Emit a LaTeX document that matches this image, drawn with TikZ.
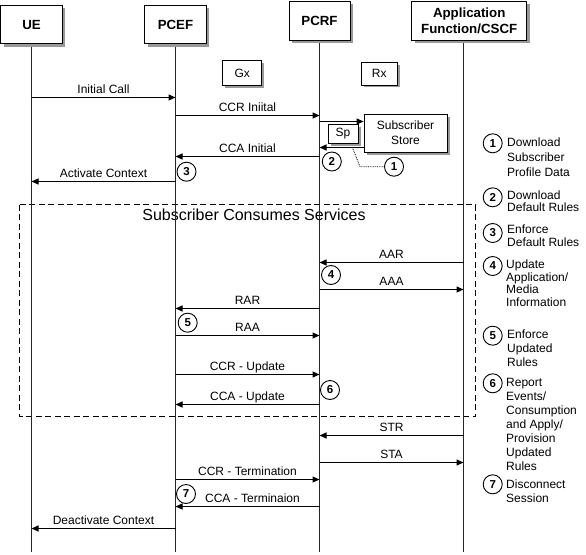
\documentclass[tikz,border=0pt]{standalone}
\usepackage{fontspec}
\setmainfont{Liberation Sans}
\usetikzlibrary{arrows.meta,shadows,calc}
\begin{document}
\begin{tikzpicture}[x=1pt,y=-1pt,
  every node/.style={font=\fontsize{12}{14}\selectfont},
  actor/.style={draw, fill=white, line width=0.9pt, inner sep=0, align=center,
    font=\fontsize{13.3}{16}\selectfont\bfseries,
    general shadow={fill=black!40, shadow xshift=3pt, shadow yshift=-3pt}},
  tag/.style={draw, fill=white, line width=0.8pt, inner sep=0, align=center,
    general shadow={fill=black!40, shadow xshift=2.5pt, shadow yshift=-2.5pt}},
  life/.style={line width=0.9pt, draw=black!85},
  msg/.style={line width=1pt, -{Triangle[length=7pt,width=6pt]}},
  lbl/.style={midway, above=1pt, inner sep=0, text height=9pt, text depth=2.5pt},
  num/.style={circle, draw, line width=0.9pt, fill=white, minimum size=19pt, inner sep=0,
    font=\fontsize{11.5}{13}\selectfont\bfseries},
  note/.style={anchor=north west, align=left, inner sep=0}
]
\useasboundingbox (0,0) rectangle (586,554);

% lifeline ends
\coordinate (ueE) at (31.5,552);
\coordinate (pcefE) at (175.5,552);
\coordinate (pcrfE) at (319.5,552);
\coordinate (afE) at (463.5,552);

% frame
\draw[line width=0.9pt, dash pattern=on 6pt off 3.5pt] (19.5,204.5) rectangle (475.5,416.5);
\node[font=\fontsize{16}{18}\selectfont] (title) at (254,215) {Subscriber Consumes Services};

% lifelines
\draw[life] (ueE |- 0,44) -- (ueE);
\draw[life] (pcefE |- 0,44) -- (pcefE);
\draw[life] (pcrfE |- 0,40) -- (pcrfE);
\draw[life] (afE |- 0,40) -- (afE);

% actors
\node[actor, minimum width=61.5pt, minimum height=38.5pt] (ue) at (31.5,24.5) {UE};
\node[actor, minimum width=61.5pt, minimum height=38.5pt] (pcef) at (175.5,24.5) {PCEF};
\node[actor, minimum width=61pt, minimum height=39pt] (pcrf) at (319.5,20.5) {PCRF};
\node[actor, minimum width=115pt, minimum height=39pt] (af) at (469.2,20.5) {Application\\Function/CSCF};

% interface tags
\node[tag, minimum width=39pt, minimum height=24.3pt] (gx) at (242.2,72.9) {Gx};
\node[tag, minimum width=36.3pt, minimum height=22.7pt] (rx) at (379.2,73.6) {Rx};
\node[tag, minimum width=83pt, minimum height=38pt, font=\fontsize{12}{15}\selectfont] (store) at (405.5,133) {Subscriber\\Store};
\node[tag, minimum width=30pt, minimum height=19pt] (sp) at (343,133.5) {Sp};

% messages
\draw[msg] (ueE |- 0,97.5) -- node[lbl]{Initial Call} (pcefE |- 0,97.5);
\draw[msg] (pcefE |- 0,115.5) -- node[lbl]{CCR Iniital} (pcrfE |- 0,115.5);
\draw[msg] (pcrfE |- 0,121.5) -- (store.west |- 0,121.5);
\draw[msg] (store.west |- 0,147.5) -- (pcrfE |- 0,147.5);
\draw[msg] (pcrfE |- 0,156.5) -- node[lbl]{CCA Initial} (pcefE |- 0,156.5);
\draw[msg] (pcefE |- 0,181.5) -- node[lbl]{Activate Context} (ueE |- 0,181.5);

\draw[msg] (afE |- 0,262.5) -- node[lbl]{AAR} (pcrfE |- 0,262.5);
\draw[msg] (pcrfE |- 0,289.5) -- node[lbl]{AAA} (afE |- 0,289.5);
\draw[msg] (pcrfE |- 0,308.5) -- node[lbl]{RAR} (pcefE |- 0,308.5);
\draw[msg] (pcefE |- 0,335.5) -- node[lbl]{RAA} (pcrfE |- 0,335.5);
\draw[msg] (pcefE |- 0,374.5) -- node[lbl]{CCR - Update} (pcrfE |- 0,374.5);
\draw[msg] (pcrfE |- 0,404.5) -- node[lbl]{CCA - Update} (pcefE |- 0,404.5);

\draw[msg] (afE |- 0,435.5) -- node[lbl]{STR} (pcrfE |- 0,435.5);
\draw[msg] (pcrfE |- 0,462.5) -- node[lbl]{STA} (afE |- 0,462.5);
\draw[msg] (pcefE |- 0,479.5) -- node[lbl]{CCR - Termination} (pcrfE |- 0,479.5);
\draw[msg] (pcrfE |- 0,506.5) -- node[lbl, xshift=5pt]{CCA - Terminaion} (pcefE |- 0,506.5);
\draw[msg] (pcefE |- 0,528.5) -- node[lbl]{Deactivate Context} (ueE |- 0,528.5);

% step markers
\node[num] (n1) at (394,166.7) {1};
\node[num] (n2) at (331.8,161.5) {2};
\node[num] (n3) at (186.5,171.7) {3};
\node[num] (n4) at (331,275) {4};
\node[num] (n5) at (187.7,322.7) {5};
\node[num] (n6) at (330,390) {6};
\node[num] (n7) at (186,494) {7};

\coordinate (bend) at (360,166.7);
\draw[densely dotted, line width=0.8pt] ($(sp.south east)+(-6,4)$) -- (bend) -- (n1.west);

% legend
\node[num] (l1) at (492.7,143.3) {1};
\node[num] (l2) at (492.7,197.3) {2};
\node[num] (l3) at (492.7,233) {3};
\node[num] (l4) at (492.7,266) {4};
\node[num] (l5) at (492.7,335.7) {5};
\node[num] (l6) at (492.7,383.3) {6};
\node[num] (l7) at (492.7,484.3) {7};

\node[note, font=\fontsize{12}{15}\selectfont] (t1) at (507,137.3) {Download\\Subscriber\\Profile Data};
\node[note, font=\fontsize{12}{11.7}\selectfont] (t2) at (507,190.6) {Download\\Default Rules};
\node[note, font=\fontsize{12}{12.7}\selectfont] (t3) at (507,224.6) {Enforce\\Default Rules};
\node[note, font=\fontsize{12}{12.6}\selectfont] (t4) at (506,259.6) {Update\\Application/\\Media\\Information};
\node[note, font=\fontsize{12}{14}\selectfont] (t5) at (507,329.6) {Enforce\\Updated\\Rules};
\node[note, font=\fontsize{12}{14}\selectfont] (t6) at (506,377.6) {Report\\Events/\\Consumption\\and Apply/\\Provision\\Updated\\Rules};
\node[note, font=\fontsize{12}{13.7}\selectfont] (t7) at (506,479.6) {Disconnect\\Session};
\end{tikzpicture}
\end{document}
